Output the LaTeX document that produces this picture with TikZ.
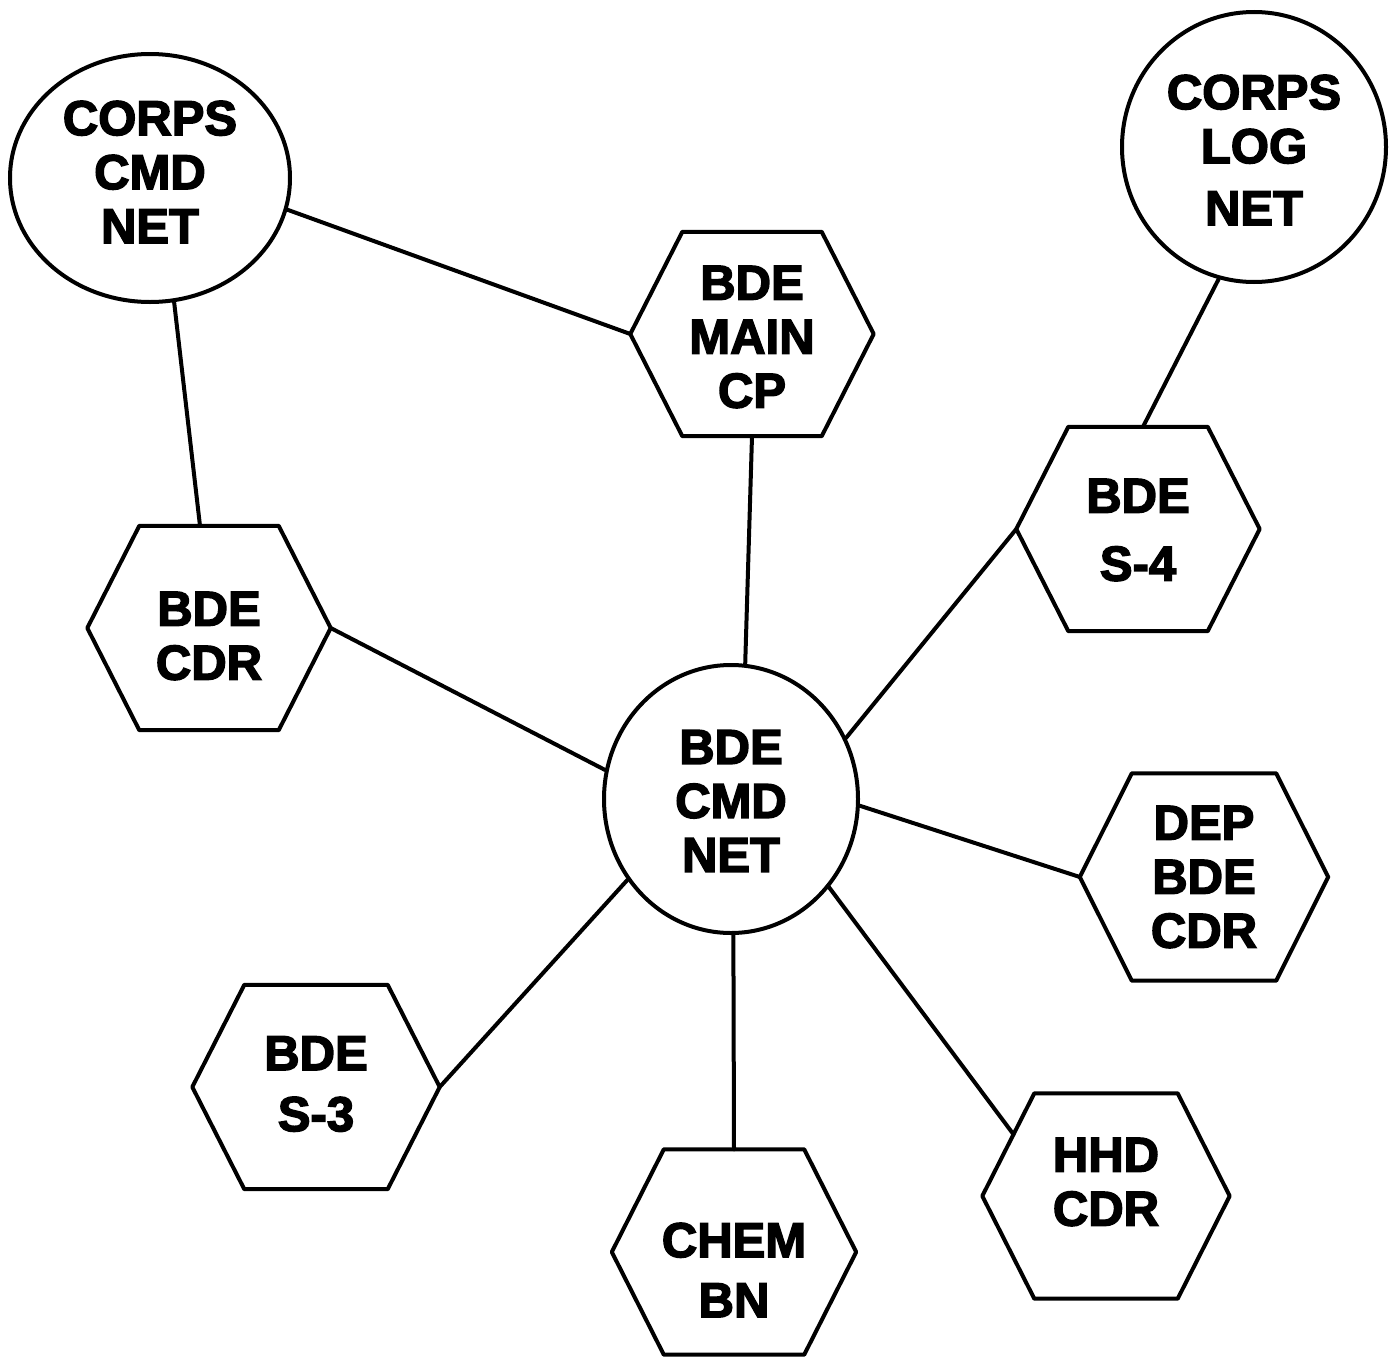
\documentclass[tikz,border=0pt]{standalone}
\usepackage{fontspec}
\newfontfamily\heavy{Liberation Sans Bold}[FakeBold=3]
\usetikzlibrary{shapes.geometric,calc}
\begin{document}
\begin{tikzpicture}[x=1pt,y=-1pt,
  edge/.style={line width=4pt,line join=round,line cap=round},
  net/.style={ellipse,draw,line width=4pt,inner sep=0pt},
  hexbox/.style={rectangle,inner sep=0pt,minimum width=243pt,minimum height=204pt},
  lbl/.style={align=center,inner sep=0pt,font=\fontsize{49}{54}\selectfont\heavy}]
\useasboundingbox (0,0) rectangle (1393,1357);
% networks (ellipses)
\node[net,minimum width=280pt,minimum height=248pt] (ccn) at (150,178) {};
\node[net,minimum width=264pt,minimum height=270pt] (cln) at (1254,147) {};
\node[net,minimum width=254pt,minimum height=268pt] (bcn) at (731,799) {};
% hexagon positions
\node[hexbox] (main) at (752,334) {};
\node[hexbox] (cdr) at (209,628) {};
\node[hexbox] (s4) at (1138,529) {};
\node[hexbox,minimum width=248pt,minimum height=207pt] (dep) at (1204,877) {};
\node[hexbox,minimum width=247pt] (s3) at (316,1087) {};
\node[hexbox,minimum width=244pt,minimum height=205pt] (chem) at (734,1252) {};
\node[hexbox,minimum width=247pt,minimum height=205pt] (hhd) at (1106,1196) {};
\foreach \n in {main,cdr,s4,dep,s3,chem,hhd}
  \draw[edge] (\n.west) -- ([xshift=52pt]\n.north west) -- ([xshift=-52pt]\n.north east)
    -- (\n.east) -- ([xshift=-52pt]\n.south east) -- ([xshift=52pt]\n.south west) -- cycle;
% labels
\node[lbl] (ccn-t) at ([yshift=6pt]ccn.center) {CORPS\\CMD\\NET};
\node[lbl] (cln-t) at ([yshift=-3pt]cln.center) {CORPS\\LOG\\[8pt]NET};
\node[lbl] (bcn-t) at ([yshift=-2pt]bcn.center) {BDE\\CMD\\NET};
\node[lbl] (main-t) at ([yshift=-3pt]main.center) {BDE\\MAIN\\CP};
\node[lbl] (cdr-t) at ([yshift=-8pt]cdr.center) {BDE\\CDR};
\node[lbl] (s4-t) at ([yshift=-1pt]s4.center) {BDE\\[14pt]S-4};
\node[lbl] (dep-t) at (dep.center) {DEP\\BDE\\CDR};
\node[lbl] (s3-t) at ([yshift=3pt]s3.center) {BDE\\[7pt]S-3};
\node[lbl] (chem-t) at ([yshift=-18pt]chem.center) {CHEM\\[6pt]BN};
\node[lbl] (hhd-t) at ([yshift=14pt]hhd.center) {HHD\\CDR};
% connectors
\draw[edge] (ccn.-13) -- (main.west);
\draw[edge] (ccn.-79) -- ([xshift=-9pt]cdr.north);
\draw[edge] (main.south) -- (bcn.84);
\draw[edge] (cln.-105) -- ([xshift=5pt]s4.north);
\draw[edge] (s4.west) -- (bcn.28);
\draw[edge] (cdr.east) -- (bcn.167);
\draw[edge] (bcn.-3) -- (dep.west);
\draw[edge] (bcn.218) -- (s3.east);
\draw[edge] (bcn.-89) -- (chem.north);
\draw[edge] (bcn.-42) -- ($(hhd.west)!0.6!([xshift=52pt]hhd.north west)$);
\end{tikzpicture}
\end{document}
